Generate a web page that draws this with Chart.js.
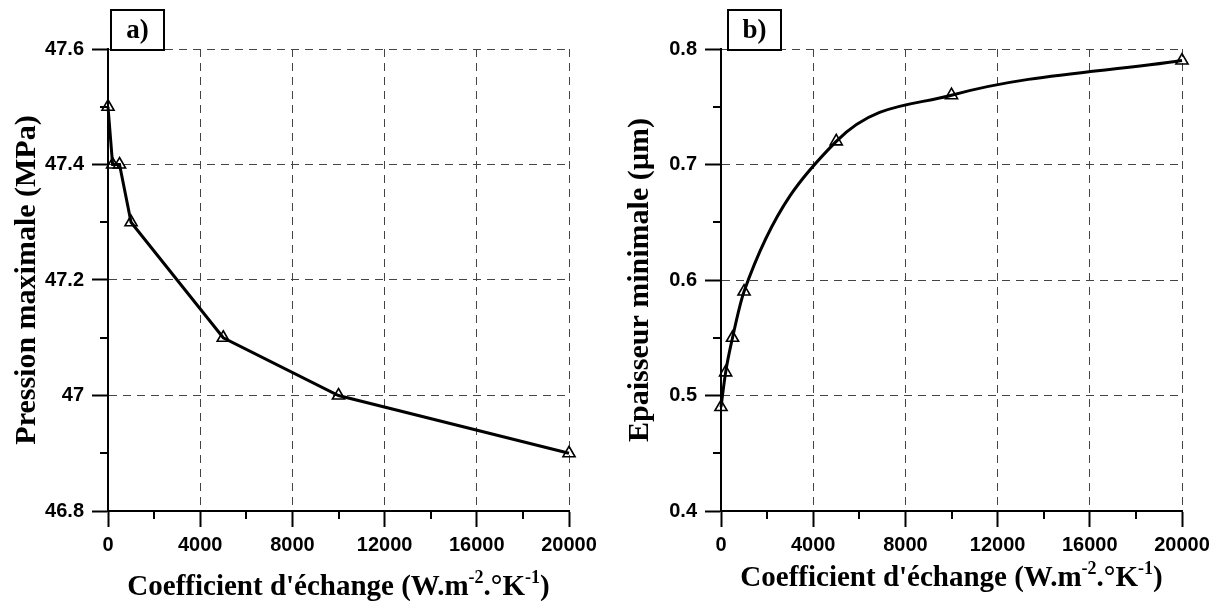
<!DOCTYPE html>
<html>
<head>
<meta charset="utf-8">
<script src="https://cdn.jsdelivr.net/npm/chart.js@4.4.1/dist/chart.umd.min.js"></script>
<style>
body { margin: 0; background: #fff; }
#wrap { position: relative; width: 1219px; height: 601px; }
canvas { position: absolute; top: 0; }
</style>
</head>
<body>
<div id="wrap">
  <canvas id="chartA" width="609" height="601" style="left:0"></canvas>
  <canvas id="chartB" width="610" height="601" style="left:609px"></canvas>
</div>
<script>
// data
const coeffs = [0, 200, 500, 1000, 5000, 10000, 20000];
const pression = [47.5, 47.4, 47.4, 47.3, 47.1, 47.0, 46.9];
const epaisseur = [0.49, 0.52, 0.55, 0.59, 0.72, 0.76, 0.79];

const xTicks = [0, 4000, 8000, 12000, 16000, 20000];
const xMinor = [2000, 6000, 10000, 14000, 18000];
const yTicksA = [46.8, 47, 47.2, 47.4, 47.6];
const yMinorA = [46.9, 47.1, 47.3, 47.5];
const yTicksB = [0.4, 0.5, 0.6, 0.7, 0.8];
const yMinorB = [0.45, 0.55, 0.65, 0.75];

const serif = "'Liberation Serif', 'Times New Roman', serif";
const sans = "'Liberation Sans', Arial, sans-serif";

// minor ticks, panel box label and x title with superscripts
const decoPlugin = {
  id: 'deco',
  afterDraw(chart, args, opts) {
    const ctx = chart.ctx;
    const area = chart.chartArea;
    const xs = chart.scales.x, ys = chart.scales.y;
    ctx.save();
    ctx.strokeStyle = '#000';
    ctx.lineWidth = 2;
    ctx.beginPath();
    opts.xMinor.forEach(v => {
      const px = Math.round(xs.getPixelForValue(v));
      ctx.moveTo(px, area.bottom);
      ctx.lineTo(px, area.bottom + 8);
    });
    opts.yMinor.forEach(v => {
      const py = Math.round(ys.getPixelForValue(v));
      ctx.moveTo(area.left, py);
      ctx.lineTo(area.left - 8, py);
    });
    ctx.stroke();

    // panel label box
    const bx = area.left + opts.boxOff;
    ctx.fillStyle = '#fff';
    ctx.fillRect(bx, 10, 53, 40);
    ctx.lineWidth = 2;
    ctx.strokeRect(bx, 10, 53, 40);
    ctx.fillStyle = '#000';
    ctx.font = 'bold 27px ' + serif;
    ctx.textAlign = 'center';
    ctx.textBaseline = 'middle';
    ctx.fillText(opts.label, bx + 26.5, 31);

    // x title
    const big = 'bold 29px ' + serif;
    const small = 'bold 18px ' + serif;
    const parts = [
      ['Coefficient d\'échange (W.m', big, 0],
      ['-2', small, -12],
      ['.°K', big, 0],
      ['-1', small, -12],
      [')', big, 0]
    ];
    let total = 0;
    parts.forEach(p => { ctx.font = p[1]; total += ctx.measureText(p[0]).width; });
    let x = (area.left + area.right) / 2 - total / 2;
    ctx.textAlign = 'left';
    ctx.textBaseline = 'alphabetic';
    parts.forEach(p => {
      ctx.font = p[1];
      ctx.fillText(p[0], x, opts.titleBase + p[2]);
      x += ctx.measureText(p[0]).width;
    });
    ctx.restore();
  }
};

function makePanel(id, values, yTicks, yMinor, yTitle, o) {
  const fmtY = v => String(Math.round(v * 10) / 10);
  return new Chart(document.getElementById(id), {
    type: 'line',
    data: {
      datasets: [{
        data: coeffs.map((c, i) => ({ x: c, y: values[i] })),
        borderColor: '#000',
        borderWidth: 3,
        tension: 0,
        cubicInterpolationMode: o.mono ? 'monotone' : 'default',
        pointStyle: 'triangle',
        pointRadius: 7,
        pointBorderWidth: 1.6,
        pointBorderColor: '#000',
        pointBackgroundColor: 'rgba(255,255,255,0)',
        clip: false
      }]
    },
    options: {
      responsive: false,
      animation: false,
      devicePixelRatio: 1,
      layout: { padding: { left: 0, top: 49, right: o.right, bottom: 0 } },
      plugins: {
        legend: { display: false },
        tooltip: { enabled: false },
        deco: { xMinor: xMinor, yMinor: yMinor, label: o.label, boxOff: o.boxOff, titleBase: o.titleBase }
      },
      scales: {
        x: {
          type: 'linear',
          min: 0, max: 20000,
          afterBuildTicks: s => { s.ticks = xTicks.map(v => ({ value: v })); },
          afterFit: s => { s.height = 90; },
          ticks: {
            callback: v => String(v),
            font: { family: sans, size: 20, weight: 'bold' },
            color: '#000',
            padding: 6,
            maxRotation: 0
          },
          grid: { color: '#444', lineWidth: 1, tickColor: '#000', tickWidth: 2, tickLength: 16 },
          border: { color: '#000', width: 2, dash: [8, 6] }
        },
        y: {
          min: yTicks[0], max: yTicks[yTicks.length - 1],
          afterBuildTicks: s => { s.ticks = yTicks.map(v => ({ value: v })); },
          afterFit: s => { s.width = o.left; },
          ticks: {
            callback: fmtY,
            font: { family: sans, size: 20, weight: 'bold' },
            color: '#000',
            padding: 8
          },
          title: {
            display: true,
            text: yTitle,
            font: { family: serif, size: 30, weight: 'bold' },
            color: '#000',
            padding: { top: o.titlePad, bottom: 0 }
          },
          grid: { color: '#444', lineWidth: 1, tickColor: '#000', tickWidth: 2, tickLength: 16 },
          border: { color: '#000', width: 2, dash: [8, 6] }
        }
      }
    },
    plugins: [decoPlugin]
  });
}

makePanel('chartA', pression, yTicksA, yMinorA, 'Pression maximale (MPa)',
  { left: 108, right: 40, label: 'a)', boxOff: 3, titleBase: 595, titlePad: 9, mono: false });
makePanel('chartB', epaisseur, yTicksB, yMinorB, 'Epaisseur minimale (µm)',
  { left: 112, right: 37, label: 'b)', boxOff: 7, titleBase: 586, titlePad: 13, mono: true });
</script>
</body>
</html>
